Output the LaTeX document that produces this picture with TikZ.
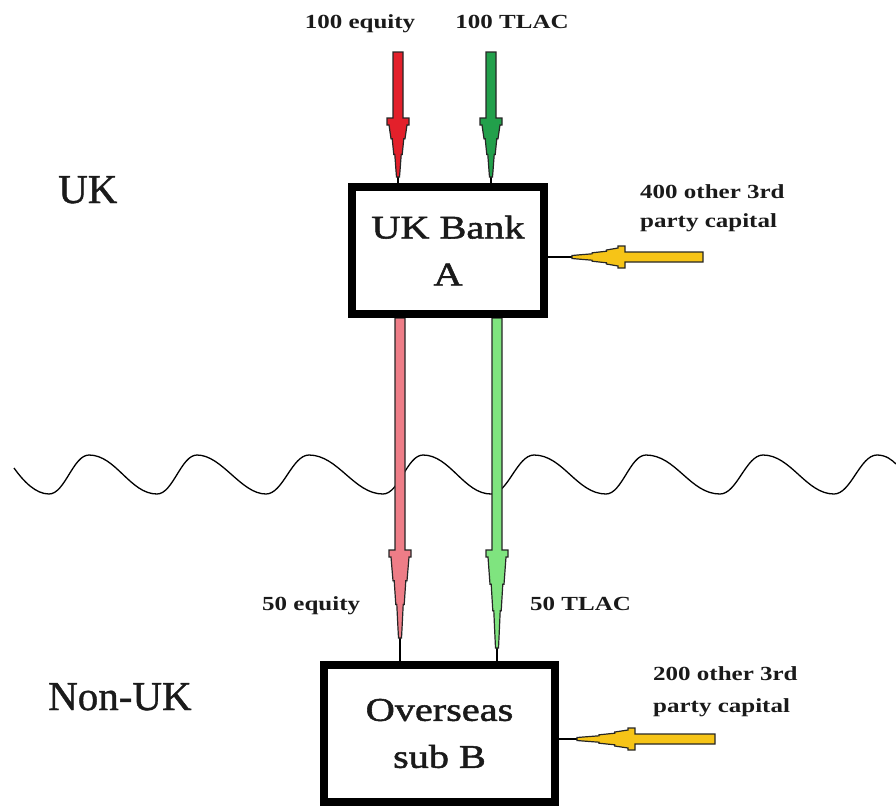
\documentclass[tikz,border=0pt]{standalone}
\usepackage{fontspec}
\setmainfont{Liberation Serif}
\newfontfamily\boxfont[FakeStretch=1.22,FakeBold=1.6]{Liberation Serif}
\newfontfamily\labfont[FakeStretch=1.25]{Liberation Serif}
\newfontfamily\regfont[FakeBold=1]{Liberation Serif}
\usetikzlibrary{calc,backgrounds}
\definecolor{redA}{HTML}{E3202B}
\definecolor{greenA}{HTML}{22A04B}
\definecolor{redB}{HTML}{EE7D87}
\definecolor{greenB}{HTML}{7FE47F}
\definecolor{yellowA}{HTML}{F6C417}
\definecolor{ink}{HTML}{1A1A1A}
\tikzset{
  bankbox/.style={draw=black, line width=8pt, inner sep=0pt, align=center,
    font=\boxfont\fontsize{33}{47}\selectfont, text=ink},
  lab/.style={inner sep=0pt, text=ink, font=\labfont\bfseries\fontsize{20}{29}\selectfont},
  region/.style={inner sep=0pt, text=ink, font=\regfont\fontsize{41}{48}\selectfont},
  arrowline/.style={draw=black!85, line width=1.2pt, line join=miter},
  tipline/.style={draw=black, line width=1.6pt},
  wave/.style={draw=black, line width=1.3pt}
}
% #1 tail, #2 shoulder, #3 tip, #4 end, #5 colour, #6 #7 perpendicular unit vector
\newcommand\fatarrow[7]{%
  \draw[tipline] (#3) -- (#4);
  \draw[arrowline, fill=#5]
    ($(#1)+5*(#6,#7)$) -- ($(#2)+5*(#6,#7)$) -- ($(#2)+11*(#6,#7)$)
    -- ($(#2)!7pt!(#3)+11*(#6,#7)$) -- ($(#2)!7pt!(#3)+9*(#6,#7)$)
    -- ($(#2)!0.35!(#3)+7*(#6,#7)$) -- ($(#2)!0.35!(#3)+5.8*(#6,#7)$)
    -- ($(#2)!0.62!(#3)+4.2*(#6,#7)$) -- ($(#2)!0.62!(#3)+3.2*(#6,#7)$)
    -- ($(#2)!0.85!(#3)+2.2*(#6,#7)$) -- ($(#3)+1.5*(#6,#7)$)
    -- ($(#3)-1.5*(#6,#7)$) -- ($(#2)!0.85!(#3)-2.2*(#6,#7)$)
    -- ($(#2)!0.62!(#3)-3.2*(#6,#7)$) -- ($(#2)!0.62!(#3)-4.2*(#6,#7)$)
    -- ($(#2)!0.35!(#3)-5.8*(#6,#7)$) -- ($(#2)!0.35!(#3)-7*(#6,#7)$)
    -- ($(#2)!7pt!(#3)-9*(#6,#7)$) -- ($(#2)!7pt!(#3)-11*(#6,#7)$)
    -- ($(#2)-11*(#6,#7)$) -- ($(#2)-5*(#6,#7)$) -- ($(#1)-5*(#6,#7)$) -- cycle;
}
\begin{document}
\begin{tikzpicture}[x=1pt,y=-1pt]
\useasboundingbox (0,0) rectangle (896,807);

% boxes
\node[bankbox, minimum width=192pt, minimum height=127pt] (A) at (448,250.5) {UK Bank\\A};
\node[bankbox, minimum width=231pt, minimum height=137pt] (B) at (439.5,733.5) {Overseas\\sub B};

% region labels
\node[region, anchor=base west] (uk) at (58,203) {UK};
\node[region, anchor=base west] (nonuk) at (48,710) {Non-UK};

% flow labels
\node[lab, anchor=base] (l1) at (360,28) {100 equity};
\node[lab, anchor=base] (l2) at (512,28) {100 TLAC};
\node[lab, anchor=base west] (l3) at (262,610) {50 equity};
\node[lab, anchor=base west] (l4) at (530,610) {50 TLAC};
\node[lab, align=left, anchor=base west] (l5) at (640,227) {400 other 3rd\\party capital};
\node[lab, align=left, anchor=base west, font=\labfont\bfseries\fontsize{20}{32}\selectfont] (l6) at (653,712) {200 other 3rd\\party capital};

% arrow geometry
\coordinate (rt) at (398,52);  \coordinate (rs) at (398,118); \coordinate (rp) at (398,177);
\coordinate (gt) at (491,52);  \coordinate (gs) at (491,118); \coordinate (gp) at (491,177);
\coordinate (r2s) at (400,550); \coordinate (r2p) at (400,638);
\coordinate (g2s) at (497,550); \coordinate (g2p) at (497,648);
\coordinate (yt) at (703,257); \coordinate (ys) at (625,257); \coordinate (yp) at (572,257);
\coordinate (y2t) at (715,739); \coordinate (y2s) at (635,739); \coordinate (y2p) at (577,739);

\begin{scope}[on background layer]
  \draw[wave] (14,468) .. controls (24,482) and (36,494) .. (49,494)
    .. controls (65,494) and (73,455) .. (89,455)
    .. controls (116,455) and (130,494) .. (157,494)
    .. controls (173,494) and (181,455) .. (197,455)
    .. controls (222,455) and (241,494) .. (266,494)
    .. controls (283,494) and (292,455) .. (309,455)
    .. controls (338,455) and (354,494) .. (383,494)
    .. controls (399,494) and (407,455) .. (423,455)
    .. controls (450,455) and (464,494) .. (491,494)
    .. controls (508,494) and (517,455) .. (534,455)
    .. controls (563,455) and (577,494) .. (606,494)
    .. controls (622,494) and (630,455) .. (646,455)
    .. controls (676,455) and (690,494) .. (720,494)
    .. controls (737,494) and (746,455) .. (763,455)
    .. controls (791,455) and (806,494) .. (834,494)
    .. controls (851,494) and (860,455) .. (877,455)
    .. controls (886,455) and (892,460) .. (896,464);
  \fatarrow{rt}{rs}{rp}{A.north -| rt}{redA}{1}{0}
  \fatarrow{gt}{gs}{gp}{A.north -| gt}{greenA}{1}{0}
  \fatarrow{A.south -| r2s}{r2s}{r2p}{B.north -| r2s}{redB}{1}{0}
  \fatarrow{A.south -| g2s}{g2s}{g2p}{B.north -| g2s}{greenB}{1}{0}
  \fatarrow{yt}{ys}{yp}{A.east |- ys}{yellowA}{0}{1}
  \fatarrow{y2t}{y2s}{y2p}{B.east |- y2s}{yellowA}{0}{1}
\end{scope}
\end{tikzpicture}
\end{document}
